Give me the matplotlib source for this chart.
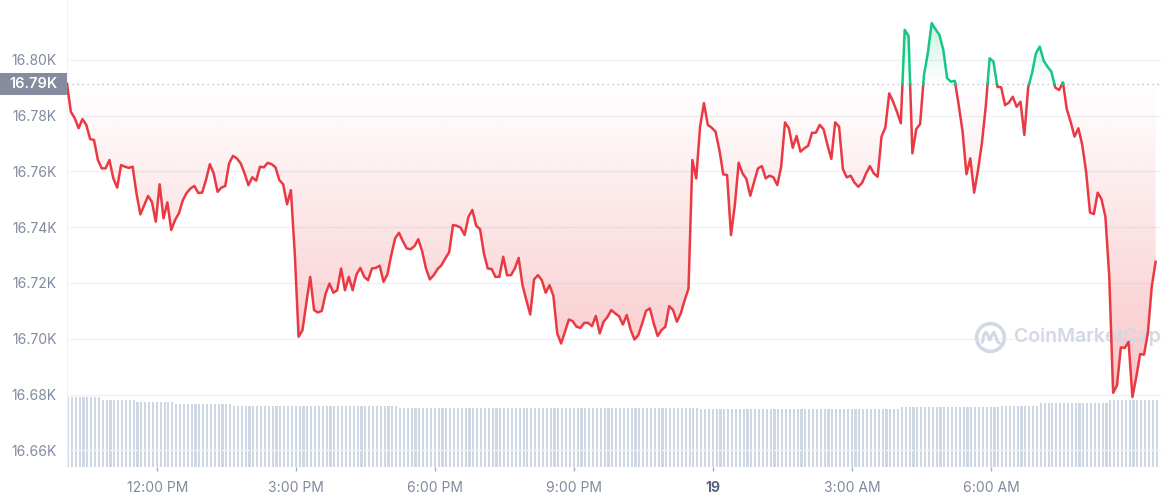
import numpy as np
import pandas as pd
import matplotlib
matplotlib.use("Agg")
import matplotlib.pyplot as plt
import matplotlib.dates as mdates
import matplotlib.transforms as mtransforms
from matplotlib.path import Path
from matplotlib.patches import PathPatch, Rectangle
from matplotlib.colors import to_rgb

plt.rcParams['font.family'] = ['Inter', 'DejaVu Sans']

# BTC price, 5-minute samples starting at start_time
start_time = '2022-12-18 10:03'
price = [
    16791.4, 16781.4, 16779.1, 16775.5, 16778.8, 16776.7, 16771.6, 16771.3, 16764.1, 16761.1,
    16761.1, 16764.1, 16757.5, 16754.2, 16762.3, 16761.7, 16761.3, 16761.7, 16752.1, 16744.6,
    16747.9, 16751.2, 16749.1, 16742.0, 16755.4, 16743.2, 16748.9, 16739.0, 16742.6, 16745.0,
    16749.7, 16752.3, 16753.9, 16754.8, 16752.3, 16752.4, 16756.9, 16762.6, 16759.3, 16752.7,
    16754.2, 16754.8, 16762.9, 16765.6, 16764.7, 16762.9, 16759.3, 16755.1, 16757.9, 16756.7,
    16761.7, 16761.5, 16763.1, 16762.6, 16761.5, 16756.9, 16755.4, 16748.2, 16753.3, 16730.7,
    16700.7, 16703.1, 16712.8, 16722.2, 16710.3, 16709.4, 16710.0, 16716.2, 16719.8, 16716.5,
    16717.4, 16725.2, 16717.4, 16722.2, 16717.4, 16723.1, 16725.4, 16722.2, 16721.0, 16725.2,
    16725.4, 16726.2, 16720.4, 16723.1, 16730.0, 16736.0, 16738.0, 16735.0, 16732.4, 16732.1,
    16733.2, 16735.7, 16731.4, 16725.2, 16721.3, 16722.8, 16725.0, 16726.4, 16728.8, 16731.0,
    16740.8, 16740.5, 16739.8, 16737.2, 16743.7, 16746.2, 16740.5, 16739.3, 16730.6, 16725.2,
    16725.0, 16722.2, 16722.2, 16729.4, 16722.8, 16722.8, 16725.2, 16729.0, 16719.2, 16713.8,
    16708.7, 16721.3, 16722.8, 16721.0, 16716.5, 16719.2, 16715.4, 16701.9, 16698.3, 16702.5,
    16706.9, 16706.3, 16704.3, 16703.9, 16705.7, 16705.7, 16704.5, 16708.2, 16701.9, 16706.1,
    16707.8, 16710.3, 16709.1, 16708.1, 16705.1, 16708.5, 16703.3, 16699.7, 16701.3, 16705.5,
    16710.0, 16710.9, 16705.5, 16701.0, 16703.1, 16704.3, 16711.7, 16710.3, 16706.1, 16709.1,
    16713.8, 16718.0, 16764.1, 16757.5, 16776.1, 16784.5, 16776.7, 16775.7, 16774.3, 16767.7,
    16759.0, 16758.7, 16737.2, 16747.9, 16763.1, 16759.3, 16757.3, 16751.3, 16756.3, 16761.1,
    16761.9, 16757.5, 16758.5, 16757.9, 16755.1, 16761.7, 16777.6, 16775.5, 16768.5, 16772.7,
    16767.1, 16768.3, 16769.2, 16773.9, 16773.9, 16776.7, 16775.1, 16769.5, 16764.5, 16777.6,
    16776.1, 16760.8, 16757.9, 16758.5, 16756.0, 16754.5, 16756.0, 16759.3, 16761.9, 16759.3,
    16758.1, 16772.5, 16775.8, 16788.0, 16785.0, 16781.4, 16777.3, 16810.8, 16808.6, 16766.5,
    16775.2, 16777.0, 16794.6, 16802.5, 16813.2, 16811.0, 16809.0, 16803.6, 16793.4, 16792.2,
    16792.5, 16783.8, 16774.3, 16759.0, 16764.7, 16752.4, 16760.5, 16770.1, 16783.2, 16800.6,
    16799.4, 16790.4, 16790.2, 16783.8, 16784.7, 16786.8, 16783.2, 16785.0, 16773.1, 16790.2,
    16795.3, 16802.4, 16804.8, 16799.7, 16797.6, 16795.8, 16790.1, 16789.2, 16792.0, 16782.3,
    16777.8, 16772.5, 16775.5, 16769.5, 16759.9, 16745.3, 16744.7, 16752.4, 16750.0, 16743.7,
    16722.2, 16680.6, 16683.3, 16696.9, 16696.7, 16698.9, 16679.1, 16686.3, 16694.5, 16694.3,
    16702.1, 16718.6, 16727.6,
]
open_price = 16791.4
open_label = '16.79K'

# volume bars, run-length encoded: (number of 5-min bars, volume in $B)
volume_runs = [(9, 14.0), (9, 13.4), (10, 13.0), (15, 12.6), (43, 12.2), (78, 11.8),
               (52, 11.7), (26, 12.0), (10, 12.3), (18, 12.8), (13, 13.4)]

y_ticks = [16660, 16680, 16700, 16720, 16740, 16760, 16780, 16800]
tick_times = ['2022-12-18 12:00', '2022-12-18 15:00', '2022-12-18 18:00', '2022-12-18 21:00',
              '2022-12-19 00:00', '2022-12-19 03:00', '2022-12-19 06:00']
tick_labels = ['12:00 PM', '3:00 PM', '6:00 PM', '9:00 PM', '19', '3:00 AM', '6:00 AM']

RED = '#ea3943'
GREEN = '#16c784'
GREY = '#808a9d'
MARK = '#d3d9e4'

t = mdates.date2num(pd.date_range(start_time, periods=len(price), freq='5min'))
p = np.array(price)
counts = [c for c, v in volume_runs]
vols = np.repeat([v for c, v in volume_runs], counts)

fig = plt.figure(figsize=(11.61, 5.0), dpi=100)
ax = fig.add_axes([67 / 1161, 33 / 500, 1094 / 1161, 467 / 500])
ax2 = ax.twinx()
ax2.set_position(ax.get_position())
ax.set_zorder(ax2.get_zorder() + 1)
ax.patch.set_visible(False)

x0 = t[0]
x1 = mdates.date2num(pd.Timestamp(start_time) + pd.Timedelta(minutes=1417))
y_lo, y_hi = 16654, 16821.5

# volume
ax2.bar(t, vols, width=0.55 * 5 / 1440, align='edge', color='#cfd6e4', linewidth=0)
ax2.set_ylim(0, 93.4)
ax2.axis('off')

# insert the crossings with the open price so the line can switch colour
xs, ys = [t[0]], [p[0]]
for i in range(1, len(p)):
    a, b = p[i - 1] - open_price, p[i] - open_price
    if a * b < 0:
        f = a / (a - b)
        xs.append(t[i - 1] + f * (t[i] - t[i - 1]))
        ys.append(open_price)
    xs.append(t[i])
    ys.append(p[i])
xs, ys = np.array(xs), np.array(ys)


def gradient_fill(where, color, ya, yb, alpha_a, alpha_b):
    coll = ax.fill_between(xs, ys, open_price, where=where, facecolor='none',
                           edgecolor='none', interpolate=True)
    clip = PathPatch(Path.make_compound_path(*coll.get_paths()), transform=ax.transData,
                     facecolor='none', edgecolor='none')
    ax.add_patch(clip)
    arr = np.zeros((256, 1, 4))
    arr[..., :3] = to_rgb(color)
    arr[:, 0, 3] = np.linspace(alpha_a, alpha_b, 256)
    im = ax.imshow(arr, extent=[x0, x1, ya, yb], origin='lower', aspect='auto',
                   interpolation='bilinear', zorder=1)
    im.set_clip_path(clip)


gradient_fill(ys <= open_price, RED, y_lo, open_price, 0.36, 0.0)
gradient_fill(ys >= open_price, GREEN, open_price, y_hi, 0.0, 0.32)

ax.plot(xs, np.ma.masked_where(ys > open_price, ys), color=RED, lw=1.8, zorder=3,
        solid_joinstyle='round')
ax.plot(xs, np.ma.masked_where(ys < open_price, ys), color=GREEN, lw=1.8, zorder=3,
        solid_joinstyle='round')
ax.axhline(open_price, color='#a6aec0', lw=0.9, ls=(0, (1, 3)), zorder=2)

ax.set_xlim(x0, x1)
ax.set_ylim(y_lo, y_hi)

# watermark
ax.plot([0.844], [0.278], marker='o', ms=20, mfc='none', mec=MARK, mew=2.6,
        transform=ax.transAxes, zorder=1.5)
cx, cy = ax.transAxes.transform((0.844, 0.278))
wave = mtransforms.Affine2D().translate(cx, cy)
ax.plot([-8, -6.5, -4.5, -2.5, -0.5, 1.5, 3.5, 5.5, 7, 9],
        [-5, 2, 5, 2, -3, 2, 5, 1, -4, -6], color=MARK, lw=2.2,
        solid_capstyle='round', solid_joinstyle='round', transform=wave, zorder=1.5)
ax.text(0.866, 0.278, 'CoinMarketCap', transform=ax.transAxes, fontsize=14,
        fontweight='semibold', color=MARK, va='center', ha='left', zorder=1.5)

ax.set_yticks(y_ticks)
ax.set_yticklabels([f'{v / 1000:.2f}K' for v in y_ticks])
ax.set_xticks(mdates.date2num(pd.to_datetime(tick_times)))
ax.set_xticklabels(tick_labels)
ax.tick_params(axis='y', length=0, pad=7.5, labelsize=10, labelcolor=GREY)
ax.tick_params(axis='x', length=3, width=1, color='#a6aec0', pad=7, labelsize=10,
               labelcolor=GREY)
for lab in ax.get_xticklabels():
    if lab.get_text() == '19':
        lab.set_fontweight('bold')
        lab.set_color('#58667e')
ax.grid(axis='y', color='#eff2f5', lw=1)
ax.set_axisbelow(True)
for s in ['top', 'right', 'bottom']:
    ax.spines[s].set_visible(False)
ax.spines['left'].set_color('#eff2f5')

# open-price tag on the left
y_px = ax.transData.transform((x0, open_price))[1]
fig.add_artist(Rectangle((0, y_px - 11), 67, 22, transform=mtransforms.IdentityTransform(),
                         facecolor='#868c9e', edgecolor='none'))
fig.text(57, y_px, open_label, transform=mtransforms.IdentityTransform(), ha='right',
         va='center', color='white', fontsize=10.5, fontweight='semibold')

fig.savefig('out.png', dpi=100)
